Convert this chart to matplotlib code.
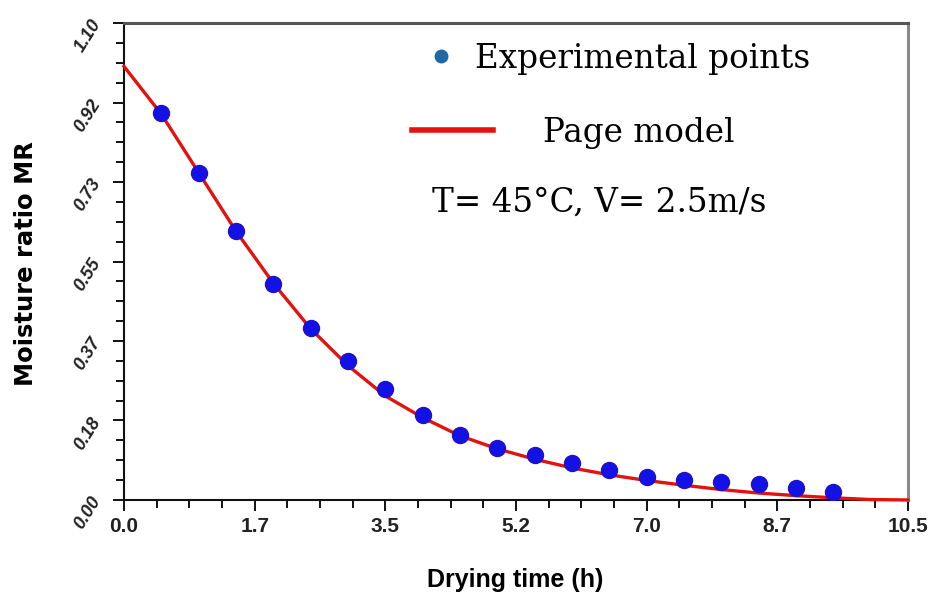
import numpy as np
import matplotlib
matplotlib.use('Agg')
import matplotlib.pyplot as plt
from matplotlib.lines import Line2D

time_h = [0.5, 1.0, 1.5, 2.0, 2.5, 3.0, 3.5, 4.0, 4.5, 5.0,
          5.5, 6.0, 6.5, 7.0, 7.5, 8.0, 8.5, 9.0, 9.5]
mr_exp = [0.892, 0.755, 0.620, 0.498, 0.396, 0.321, 0.256, 0.196, 0.150, 0.119,
          0.103, 0.086, 0.068, 0.054, 0.046, 0.042, 0.038, 0.027, 0.019]

# Page model curve
model_t = [0.0, 0.5, 1.0, 1.5, 2.0, 2.5, 3.0, 3.5, 4.0, 4.5, 5.0,
           5.5, 6.0, 6.5, 7.0, 7.5, 8.0, 8.5, 9.0, 9.5, 10.0, 10.5]
model_mr = [1.0, 0.89, 0.755, 0.62, 0.50, 0.395, 0.31, 0.24, 0.19, 0.148, 0.118,
            0.094, 0.074, 0.058, 0.045, 0.034, 0.024, 0.016, 0.010, 0.005, 0.001, 0.0]

x_ticklabels = ['0.0', '1.7', '3.5', '5.2', '7.0', '8.7', '10.5']
y_ticklabels = ['0.00', '0.18', '0.37', '0.55', '0.73', '0.92', '1.10']

sans = 'Liberation Sans'
serif = 'DejaVu Serif'

fig = plt.figure(figsize=(9.3, 6.14), dpi=100)
ax = fig.add_axes([0.1333, 0.1857, 0.8430, 0.7768])

ax.plot(model_t, model_mr, color='#e3120f', lw=2.4, zorder=3, clip_on=False)
ax.plot(time_h, mr_exp, 'o', color='#1212e6', ms=11.5, mec='#2010c8', zorder=4)

ax.set_xlim(0, 10.5)
ax.set_ylim(0, 1.1)
ax.set_xticks(np.linspace(0, 10.5, 7))
ax.set_xticks(np.linspace(0, 10.5, 25), minor=True)
ax.set_yticks(np.linspace(0, 1.1, 7))
ax.set_yticks(np.linspace(0, 1.1, 25), minor=True)
ax.set_xticklabels(x_ticklabels, family=sans, fontsize=15, fontweight='bold', color='#222222')
ax.set_yticklabels(y_ticklabels, family=sans, fontsize=13, fontweight='bold', color='#222222',
                   rotation=58, style='italic')
ax.tick_params(which='both', direction='out', width=1.4, color='#111111')
ax.tick_params(which='major', length=8)
ax.tick_params(axis='x', which='major', pad=4)
ax.tick_params(axis='y', which='major', pad=6)
ax.tick_params(which='minor', length=6)

ax.spines['left'].set_color('#111111')
ax.spines['bottom'].set_color('#111111')
ax.spines['left'].set_linewidth(1.5)
ax.spines['bottom'].set_linewidth(1.5)
ax.spines['top'].set_color('#555555')
ax.spines['top'].set_linewidth(2.2)
ax.spines['right'].set_color('#8a8a8a')
ax.spines['right'].set_linewidth(2.2)

fig.text(0.028, 0.57, 'Moisture ratio MR', rotation=90, ha='center', va='center',
         fontsize=17.5, fontweight='bold', family='DejaVu Sans')
fig.text(0.554, 0.055, 'Drying time (h)', ha='center', va='center',
         fontsize=18, fontweight='bold', family=sans)

pt_handle = Line2D([], [], ls='none', marker='o', color='#1f6aa3', ms=9)
leg1 = ax.legend([pt_handle], ['Experimental points'], loc='center left',
                 bbox_to_anchor=(0.383, 0.925), frameon=False, handlelength=1.0,
                 handletextpad=0.55, borderaxespad=0, borderpad=0,
                 prop={'family': serif, 'size': 23.5})
ax.add_artist(leg1)
line_handle = Line2D([], [], color='#e3120f', lw=4)
ax.legend([line_handle], ['Page model'], loc='center left',
          bbox_to_anchor=(0.367, 0.77), frameon=False, handlelength=2.48,
          handletextpad=1.53, borderaxespad=0, borderpad=0,
          prop={'family': serif, 'size': 23.5})

ax.text(0.393, 0.623, 'T= 45\u00b0C, V= 2.5m/s', transform=ax.transAxes,
        ha='left', va='center', fontsize=23.5, family=serif)

fig.savefig('out.png', dpi=100)
